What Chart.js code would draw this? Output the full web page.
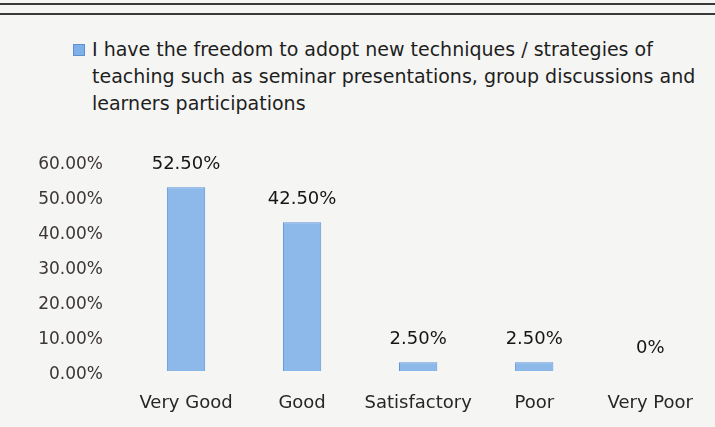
<!DOCTYPE html>
<html lang="en">
<head>
    <meta charset="UTF-8">
    <title>Freedom to adopt new teaching techniques</title>
    <script src="https://cdn.jsdelivr.net/npm/chart.js"></script>
    <style>
        body { margin: 0; background: #f5f5f3; font-family: "DejaVu Sans", sans-serif; }
        #wrap { position: relative; width: 715px; height: 427px; overflow: hidden; }
        .rule { position: absolute; left: 0; width: 715px; height: 2px; background: #3a3a3a; }
        #legend { position: absolute; left: 73px; top: 36px; width: 642px; color: #1e1e1e; font-size: 19px; line-height: 27px; white-space: nowrap; }
        #legend .box { position: absolute; left: 0; top: 8px; width: 10px; height: 10px; background: #80b0e8; border: 1px solid #5d8fd2; }
        #legend .txt { margin-left: 19px; }
        canvas { position: absolute; left: 0; top: 0; }
    </style>
</head>
<body>
<div id="wrap">
    <div class="rule" style="top:3px"></div>
    <div class="rule" style="top:13px"></div>
    <div id="legend"><span class="box"></span><div class="txt" id="legendText"></div></div>
    <canvas id="chart" width="715" height="427"></canvas>
</div>
<script>
    // data
    const legendLines = [
        'I have the freedom to adopt new techniques / strategies of',
        'teaching such as seminar presentations, group discussions and',
        'learners participations'
    ];
    const seriesName = legendLines.join(' ');
    const categories = ['Very Good', 'Good', 'Satisfactory', 'Poor', 'Very Poor'];
    const values = [52.5, 42.5, 2.5, 2.5, 0];
    const valueLabels = ['52.50%', '42.50%', '2.50%', '2.50%', '0%'];
    const yTicks = [0, 10, 20, 30, 40, 50, 60];

    const legendText = document.getElementById('legendText');
    legendLines.forEach(line => {
        const d = document.createElement('div');
        d.textContent = line;
        legendText.appendChild(d);
    });

    // draws the value text above each bar
    const barLabels = {
        id: 'barLabels',
        afterDatasetsDraw(chart) {
            const ctx = chart.ctx;
            const meta = chart.getDatasetMeta(0);
            ctx.save();
            ctx.font = '18px "DejaVu Sans"';
            ctx.fillStyle = '#151515';
            ctx.textAlign = 'center';
            ctx.textBaseline = 'bottom';
            meta.data.forEach((bar, i) => {
                ctx.fillText(valueLabels[i], bar.x, bar.y - 14);
            });
            ctx.restore();
        }
    };

    new Chart(document.getElementById('chart'), {
        type: 'bar',
        data: {
            labels: categories,
            datasets: [{
                label: seriesName,
                data: values,
                backgroundColor: '#8cb8ea',
                borderColor: '#5e93da',
                borderWidth: 1,
                categoryPercentage: 1,
                barPercentage: 0.33
            }]
        },
        options: {
            responsive: false,
            animation: false,
            layout: { padding: { top: 161, right: 0, bottom: 0, left: 0 } },
            plugins: { legend: { display: false }, tooltip: { enabled: false } },
            scales: {
                x: {
                    grid: { display: false, drawTicks: false },
                    border: { display: false },
                    ticks: { color: '#262626', font: { family: 'DejaVu Sans', size: 18 }, padding: 22, maxRotation: 0 },
                    afterFit: s => { s.height = 56; }
                },
                y: {
                    min: 0,
                    max: 60,
                    afterBuildTicks: s => { s.ticks = yTicks.map(v => ({ value: v })); },
                    grid: { display: false, drawTicks: false },
                    border: { display: false },
                    ticks: {
                        color: '#3c3636',
                        font: { family: 'DejaVu Sans', size: 17 },
                        padding: 25,
                        labelOffset: 4,
                        callback: v => v.toFixed(2) + '%'
                    },
                    afterFit: s => { s.width = 128; }
                }
            }
        },
        plugins: [barLabels]
    });
</script>
</body>
</html>
